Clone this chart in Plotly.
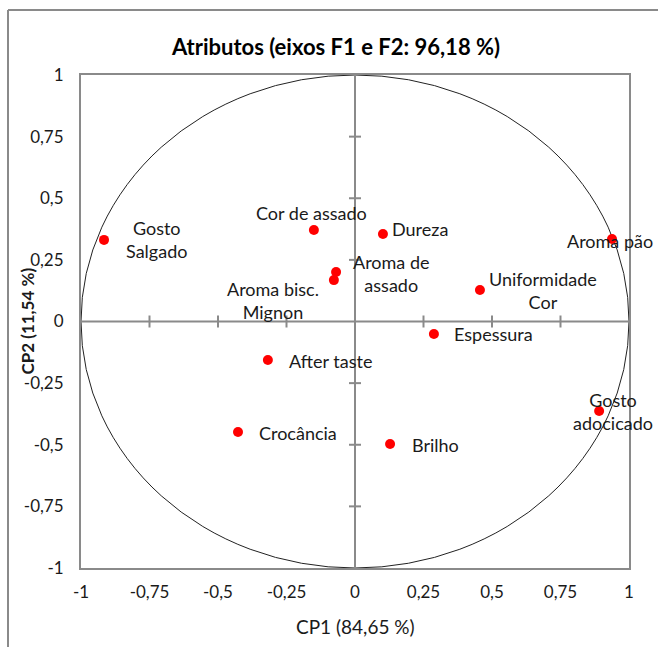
import plotly.graph_objects as go

# Variable loadings on the first two principal components
atributos = ["Gosto<br>Salgado", "Cor de assado", "Aroma bisc.<br>Mignon", "Aroma de<br>assado",
             "Dureza", "Aroma pão", "Uniformidade<br>Cor", "Espessura", "After taste",
             "Crocância", "Brilho", "Gosto<br>adocicado"]
cp1 = [-0.916, -0.150, -0.077, -0.069, 0.102, 0.938, 0.456, 0.288, -0.318, -0.427, 0.128, 0.891]
cp2 = [0.331, 0.371, 0.168, 0.201, 0.355, 0.335, 0.128, -0.051, -0.156, -0.448, -0.497, -0.363]

# Label offsets in pixels (x right, y up)
label_dx = [52, -2, -61, 55, 37, -2, 63, 60, 63, 60, 45, 14]
label_dy = [0, 17, -20, -2, 5, -2, -1, 0, -1, -1, -1, -1]

tick_vals = [-1, -0.75, -0.5, -0.25, 0, 0.25, 0.5, 0.75, 1]
tick_text = ["-1", "-0,75", "-0,5", "-0,25", "0", "0,25", "0,5", "0,75", "1"]

FONT = "Lato"
GRAY = "#8a8a8a"

fig = go.Figure()
fig.add_trace(go.Scatter(
    x=cp1, y=cp2, mode="markers",
    marker=dict(color="#ff0000", size=10, line=dict(width=0)),
    hoverinfo="skip", showlegend=False,
))

shapes = []
# Correlation circle
shapes.append(dict(type="circle", xref="x", yref="y", x0=-1, x1=1, y0=-1, y1=1,
                   line=dict(color="#222222", width=1), layer="below"))
# Axes through the origin
shapes.append(dict(type="line", xref="x", yref="y", x0=-1, x1=1, y0=0, y1=0,
                   line=dict(color=GRAY, width=2), layer="below"))
shapes.append(dict(type="line", xref="x", yref="y", x0=0, x1=0, y0=-1, y1=1,
                   line=dict(color=GRAY, width=2), layer="below"))
# Cross tick marks on the origin axes
for t in tick_vals:
    if t in (0, -1, 1):
        continue
    shapes.append(dict(type="line", xref="x", yref="y", x0=t, x1=t,
                       ysizemode="pixel", yanchor=0, y0=-6, y1=6,
                       line=dict(color=GRAY, width=2), layer="below"))
    shapes.append(dict(type="line", xref="x", yref="y", y0=t, y1=t,
                       xsizemode="pixel", xanchor=0, x0=-6, x1=6,
                       line=dict(color=GRAY, width=2), layer="below"))
# Outer chart frame (left and top edges)
shapes.append(dict(type="line", xref="paper", yref="paper", x0=-0.1332, x1=-0.1332,
                   y0=1.1318, y1=-0.2, line=dict(color=GRAY, width=2)))
shapes.append(dict(type="line", xref="paper", yref="paper", x0=-0.1332, x1=1.2,
                   y0=1.1318, y1=1.1318, line=dict(color=GRAY, width=2)))

annotations = []
for name, x, y, dx, dy in zip(atributos, cp1, cp2, label_dx, label_dy):
    annotations.append(dict(x=x, y=y, xref="x", yref="y", text=name, showarrow=False,
                            xanchor="center", yanchor="middle", xshift=dx, yshift=dy,
                            font=dict(family=FONT, size=18, color="#1a1a1a")))
annotations.append(dict(x=-0.0985, y=0.5, xref="paper", yref="paper",
                        text="<b>CP2 (11,54 %)</b>", textangle=-90, showarrow=False,
                        xanchor="center", yanchor="middle",
                        font=dict(family=FONT, size=17, color="#1a1a1a")))
annotations.append(dict(x=0.5, y=-0.118, xref="paper", yref="paper",
                        text="CP1 (84,65 %)", showarrow=False,
                        xanchor="center", yanchor="middle",
                        font=dict(family=FONT, size=19, color="#1a1a1a")))
annotations.append(dict(x=0.465, y=1.0568, xref="paper", yref="paper",
                        text="<b>Atributos (eixos F1 e F2: 96,18 %)</b>", showarrow=False,
                        xanchor="center", yanchor="middle",
                        font=dict(family=FONT, size=22, color="#000000")))

axis_common = dict(range=[-1, 1], tickvals=tick_vals, ticktext=tick_text,
                   showgrid=False, zeroline=False, showline=True, mirror=True,
                   linecolor=GRAY, linewidth=2, ticks="",
                   tickfont=dict(family=FONT, size=17, color="#1a1a1a"))

fig.update_layout(
    width=658, height=647,
    margin=dict(l=81, r=29, t=75, b=79),
    paper_bgcolor="white", plot_bgcolor="white",
    xaxis=dict(**axis_common, ticklabelstandoff=8),
    yaxis=dict(**axis_common, ticklabelstandoff=12),
    shapes=shapes, annotations=annotations,
    showlegend=False,
)

fig.write_html("out.html")
